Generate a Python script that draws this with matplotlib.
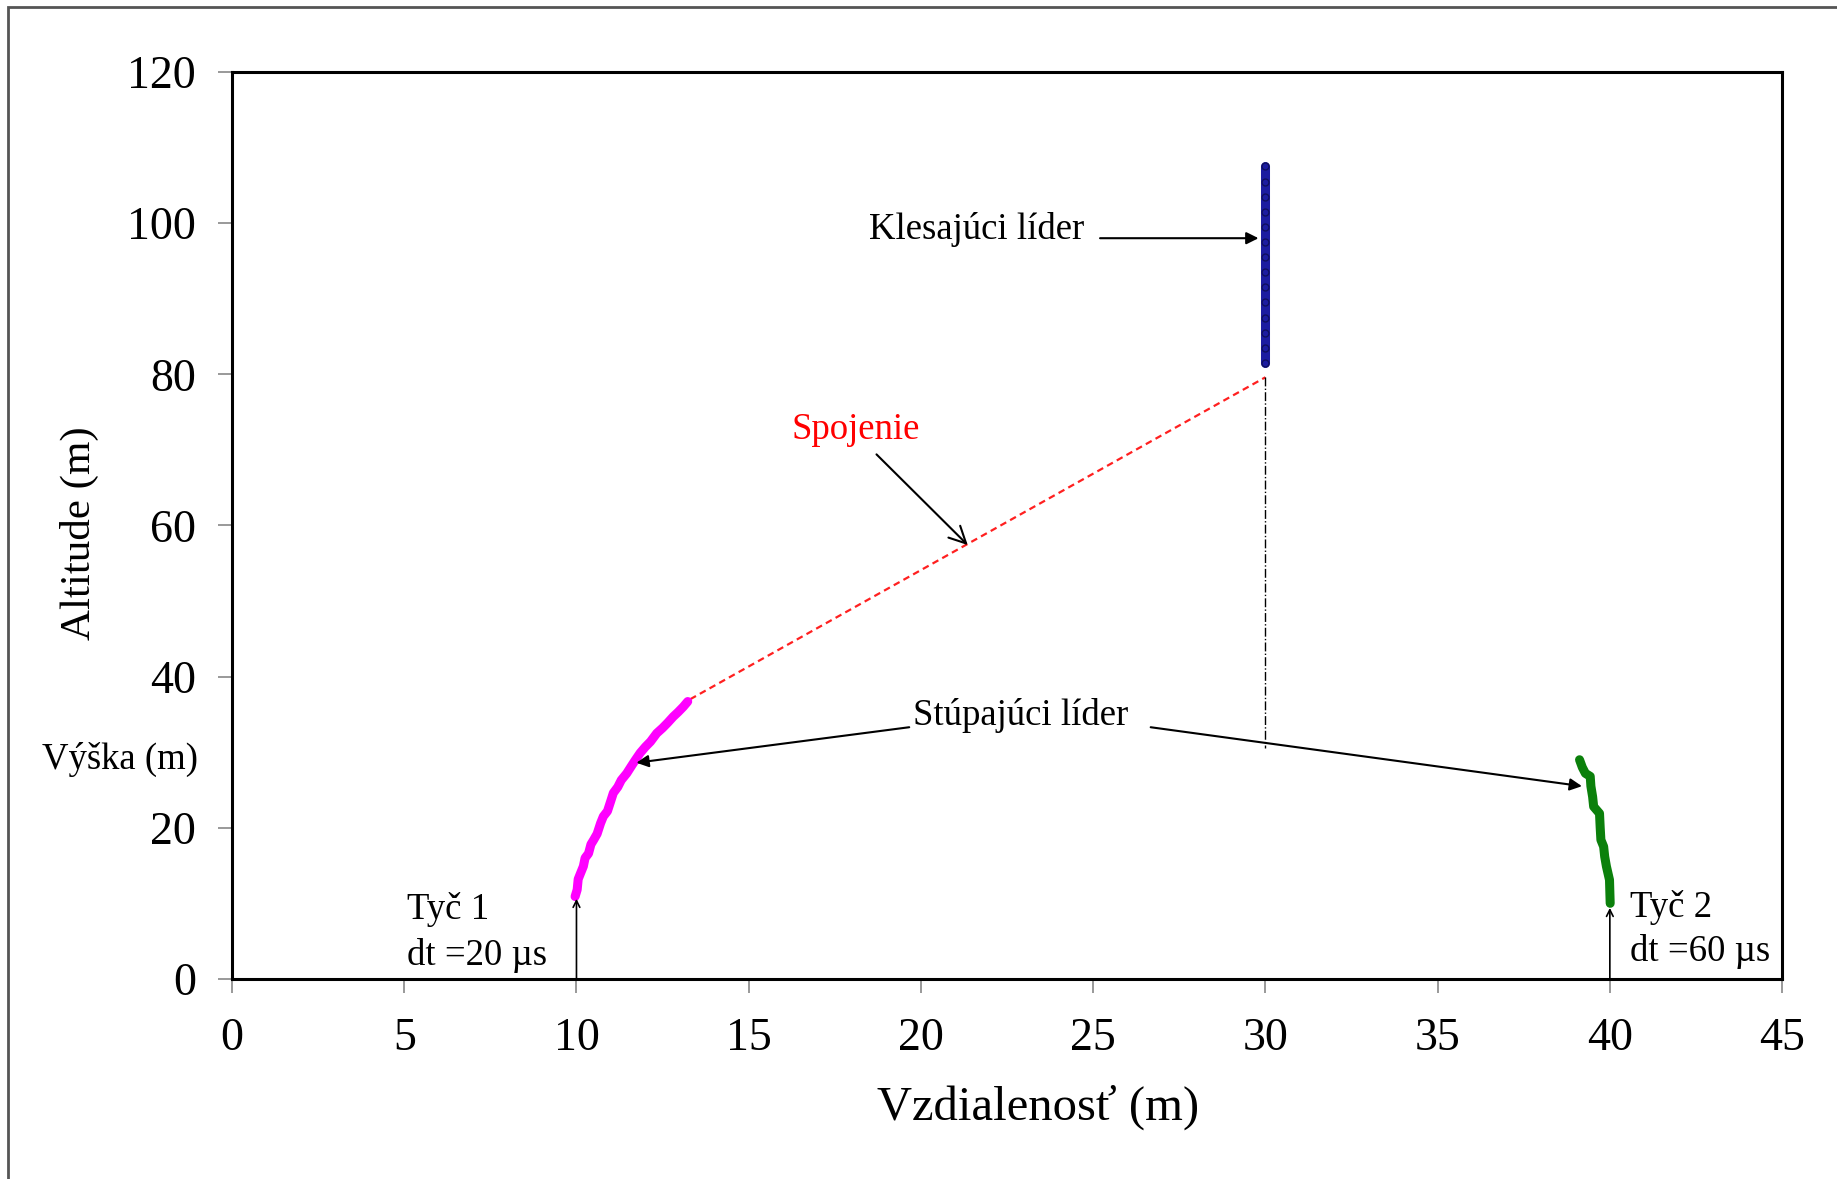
import matplotlib.pyplot as plt
from matplotlib.patches import Rectangle

plt.rcParams['font.family'] = ['Liberation Serif', 'DejaVu Serif']

# upward leader from rod 1 (x, y in m)
rod1_x = [9.96, 10.02, 10.05, 10.12, 10.2, 10.25, 10.35, 10.42, 10.5, 10.6, 10.7, 10.78,
          10.9, 11.0, 11.07, 11.2, 11.3, 11.46, 11.6, 11.7, 11.85, 12.0, 12.15, 12.33,
          12.5, 12.65, 12.81, 12.95, 13.1, 13.23]
rod1_y = [10.9, 11.8, 13.2, 14.0, 14.9, 16.0, 16.6, 17.8, 18.4, 19.2, 20.6, 21.5,
          22.2, 23.6, 24.6, 25.4, 26.3, 27.2, 28.2, 28.9, 29.9, 30.7, 31.4, 32.5,
          33.2, 33.9, 34.7, 35.3, 36.0, 36.7]

# upward leader from rod 2
rod2_x = [39.12, 39.2, 39.29, 39.43, 39.45, 39.5, 39.53, 39.7, 39.72, 39.74, 39.82,
          39.85, 39.9, 39.99, 40.0, 40.01]
rod2_y = [29.0, 28.0, 27.2, 26.8, 25.5, 24.1, 22.8, 21.9, 20.0, 18.4, 17.5,
          16.2, 14.9, 13.1, 11.5, 10.0]

# downward leader
down_x = [30, 30, 30, 30, 30, 30, 30, 30, 30, 30, 30, 30, 30, 30]
down_y = [81.5, 83.5, 85.5, 87.5, 89.5, 91.5, 93.5, 95.5, 97.5, 99.5, 101.5, 103.5,
          105.5, 107.5]

# connection between leaders and projection of the downward leader
join_x = [13.3, 30]
join_y = [37, 79.6]
proj_x = [30, 30]
proj_y = [79.6, 30.5]

xticks = [0, 5, 10, 15, 20, 25, 30, 35, 40, 45]
yticks = [0, 20, 40, 60, 80, 100, 120]

fig = plt.figure(figsize=(18.37, 11.79), dpi=100)
ax = fig.add_axes([0.1263, 0.1697, 0.8438, 0.7693])

# outer frame
fig.patches.append(Rectangle((0.0045, -0.1), 1.2, 1.094, transform=fig.transFigure,
                             fill=False, edgecolor='#555555', lw=2))

ax.plot(join_x, join_y, color='#ff2020', ls=(0, (3, 2)), lw=1.6)
ax.plot(proj_x, proj_y, color='black', ls='-.', lw=1.0)
ax.plot(rod1_x, rod1_y, color='#ff00ff', lw=6.5, solid_capstyle='round',
        solid_joinstyle='round')
ax.plot(rod2_x, rod2_y, color='#0b800b', lw=6.5, solid_capstyle='round',
        solid_joinstyle='round')
ax.plot(down_x, down_y, color='#1c1ca0', lw=6.5, solid_capstyle='round')
ax.plot(down_x, down_y, ls='none', marker='o', ms=5, mfc='#1c1ca0', mec='#101060')

fs = 26.5
filled = dict(arrowstyle='-|>', color='black', lw=1.5, mutation_scale=18,
              shrinkA=0, shrinkB=0)
ax.annotate('', xy=(29.8, 98.0), xytext=(25.2, 98.0), arrowprops=filled)
ax.text(24.75, 99.1, 'Klesajúci líder', fontsize=fs, ha='right', va='center')

ax.text(18.1, 72.7, 'Spojenie', fontsize=fs, color='red', ha='center', va='center')
ax.annotate('', xy=(21.36, 57.4), xytext=(18.71, 69.4),
            arrowprops=dict(arrowstyle='->', color='black', lw=1.5,
                            mutation_scale=30, shrinkA=0, shrinkB=0))

ax.text(22.9, 34.9, 'Stúpajúci líder', fontsize=fs, ha='center', va='center')
ax.annotate('', xy=(11.74, 28.6), xytext=(19.66, 33.3), arrowprops=filled)
ax.annotate('', xy=(39.19, 25.5), xytext=(26.67, 33.3), arrowprops=filled)

thin = dict(arrowstyle='->', color='black', lw=1.2, mutation_scale=12,
            shrinkA=0, shrinkB=0)
ax.annotate('', xy=(10, 10.6), xytext=(10, 0), arrowprops=thin)
ax.annotate('', xy=(40, 9.4), xytext=(40, 0), arrowprops=thin)
ax.text(5.07, 9.2, 'Tyč 1', fontsize=fs, ha='left', va='center')
ax.text(5.07, 3.1, 'dt =20 µs', fontsize=fs, ha='left', va='center')
ax.text(40.59, 9.5, 'Tyč 2', fontsize=fs, ha='left', va='center')
ax.text(40.59, 3.6, 'dt =60 µs', fontsize=fs, ha='left', va='center')

ax.set_xlim(0, 45)
ax.set_ylim(0, 120)
ax.set_xticks(xticks)
ax.set_yticks(yticks)
ax.tick_params(direction='out', length=10, width=1.2, color='#888888',
               labelsize=33, pad=16)
ax.tick_params(axis='x', pad=18)
for s in ax.spines.values():
    s.set_linewidth(2.2)

fig.text(0.565, 0.061, 'Vzdialenosť (m)', fontsize=35, ha='center', va='center')
fig.text(0.043, 0.548, 'Altitude (m)', fontsize=31, rotation=90,
         ha='center', va='center')
fig.text(0.0228, 0.356, 'Výška (m)', fontsize=26.5, ha='left', va='center')

fig.savefig('out.png', dpi=100)
